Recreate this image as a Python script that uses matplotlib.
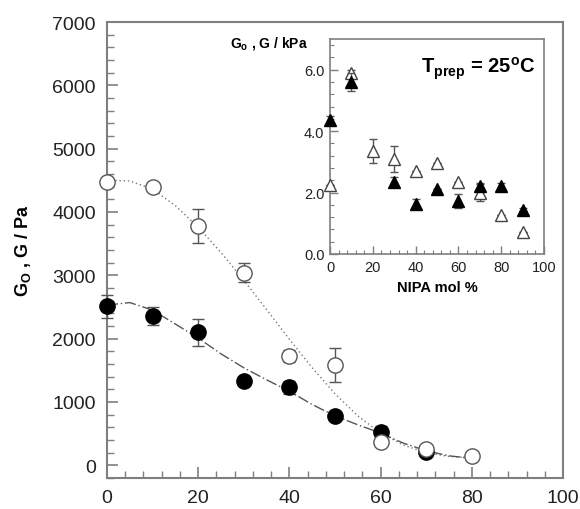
import numpy as np
import matplotlib.pyplot as plt
from matplotlib.ticker import MultipleLocator

plt.rcParams['font.family'] = ['Liberation Sans', 'DejaVu Sans']
plt.rcParams['mathtext.fontset'] = 'custom'
plt.rcParams['mathtext.rm'] = 'Liberation Sans'
plt.rcParams['mathtext.bf'] = 'Liberation Sans:bold'

# main plot: modulus vs NIPA mol %
nipa_open = [0, 10, 20, 30, 40, 50, 60, 70, 80]
g_open = [4470, 4390, 3775, 3040, 1725, 1580, 365, 265, 140]
g_open_err = [0, 0, 270, 150, 100, 270, 0, 0, 0]

nipa_filled = [0, 10, 20, 30, 40, 50, 60, 70]
g_filled = [2510, 2355, 2100, 1325, 1230, 775, 520, 205]
g_filled_err = [180, 140, 210, 0, 100, 0, 100, 0]

# fitted curves
fit_x = [0, 5, 10, 15, 20, 25, 30, 35, 40, 45, 50, 55, 60, 65, 70, 75, 80]
fit_open = [4500, 4490, 4360, 4100, 3760, 3360, 2920, 2460, 1990, 1540, 1130,
            780, 510, 320, 200, 140, 120]
fit_filled = [2530, 2570, 2450, 2230, 2010, 1760, 1540, 1350, 1170, 960, 780,
              640, 510, 350, 230, 150, 110]

# inset: Tprep = 25 C, kPa
ins_x = [0, 10, 20, 30, 40, 50, 60, 70, 80, 90]
ins_open = [2.25, 5.9, 3.35, 3.1, 2.7, 2.95, 2.35, 2.0, 1.27, 0.72]
ins_open_err = [0, 0.1, 0.38, 0.42, 0, 0, 0, 0.27, 0, 0]
ins_filled_x = [0, 10, 30, 40, 50, 60, 70, 80, 90]
ins_filled = [4.35, 5.6, 2.35, 1.63, 2.12, 1.73, 2.22, 2.22, 1.44]
ins_filled_err = [0.15, 0.3, 0.15, 0.17, 0, 0.22, 0.1, 0.1, 0.05]

spine_col = '#7f7f7f'
err_col = '#555555'


def no_clip(container):
    for artist in container.get_children():
        artist.set_clip_on(False)


fig = plt.figure(figsize=(5.8, 5.1), dpi=100)
ax = fig.add_axes([0.1845, 0.0608, 0.7862, 0.8941])

ax.plot(fit_x, fit_open, linestyle=(0, (1, 2)), color='#777777', lw=1.0, zorder=1)
ax.plot(fit_x, fit_filled, linestyle=(0, (8, 2, 1, 2)), color='#555555', lw=1.0, zorder=1)

eb = ax.errorbar(nipa_filled, g_filled, yerr=g_filled_err, fmt='o', ms=11,
                 mfc='black', mec='black', ecolor=err_col, elinewidth=1, capsize=4,
                 capthick=1, zorder=3)
no_clip(eb)
eb = ax.errorbar(nipa_open, g_open, yerr=g_open_err, fmt='o', ms=11,
                 mfc='white', mec='#555555', mew=1.0, ecolor=err_col, elinewidth=1,
                 capsize=4, capthick=1, zorder=4)
no_clip(eb)

ax.set_xlim(0, 100)
ax.set_ylim(-200, 7000)
ax.xaxis.set_major_locator(MultipleLocator(20))
ax.xaxis.set_minor_locator(MultipleLocator(4))
ax.yaxis.set_major_locator(MultipleLocator(1000))
ax.yaxis.set_minor_locator(MultipleLocator(200))
ax.tick_params(which='both', direction='in', colors=spine_col, labelcolor='#222222',
               labelsize=14, top=False, right=False)
ax.tick_params(which='major', length=8, width=1.2, pad=8)
ax.tick_params(which='minor', length=5, width=1.0)
for s in ax.spines.values():
    s.set_color(spine_col)
    s.set_linewidth(1.5)
ax.set_ylabel(r'G$_\mathbf{O}$ , G / Pa', fontsize=13, fontweight='bold', labelpad=14)

# inset
ins = fig.add_axes([0.569, 0.5, 0.369, 0.4216])
eb = ins.errorbar(ins_x, ins_open, yerr=ins_open_err, fmt='^', ms=8,
                  mfc='white', mec='#444444', mew=1.0, ecolor=err_col, elinewidth=1,
                  capsize=3, capthick=1, zorder=3)
no_clip(eb)
eb = ins.errorbar(ins_filled_x, ins_filled, yerr=ins_filled_err, fmt='^', ms=8,
                  mfc='black', mec='black', ecolor=err_col, elinewidth=1,
                  capsize=3, capthick=1, zorder=4)
no_clip(eb)
ins.set_xlim(0, 100)
ins.set_ylim(0, 7)
ins.xaxis.set_major_locator(MultipleLocator(20))
ins.xaxis.set_minor_locator(MultipleLocator(4))
ins.yaxis.set_major_locator(MultipleLocator(2))
ins.yaxis.set_minor_locator(MultipleLocator(0.4))
ins.yaxis.set_major_formatter(plt.FormatStrFormatter('%.1f'))
ins.tick_params(which='both', direction='in', colors=spine_col, labelcolor='#222222',
                labelsize=10.5, top=False, right=False)
ins.tick_params(which='major', length=6, width=1.0, pad=4)
ins.tick_params(which='minor', length=3, width=0.8)
for s in ins.spines.values():
    s.set_color(spine_col)
    s.set_linewidth(1.2)
ins.set_xlabel('NIPA mol %', fontsize=10.5, fontweight='bold', labelpad=5)
ins.text(-0.105, 0.985, r'G$_\mathbf{o}$ , G / kPa', transform=ins.transAxes,
         ha='right', va='center', fontsize=10, fontweight='bold')
ins.text(0.96, 0.93, r'T$_\mathbf{prep}$ = 25$^\mathbf{o}$C', transform=ins.transAxes,
         ha='right', va='top', fontsize=14.5, fontweight='bold')

fig.savefig('out.png', dpi=100)
